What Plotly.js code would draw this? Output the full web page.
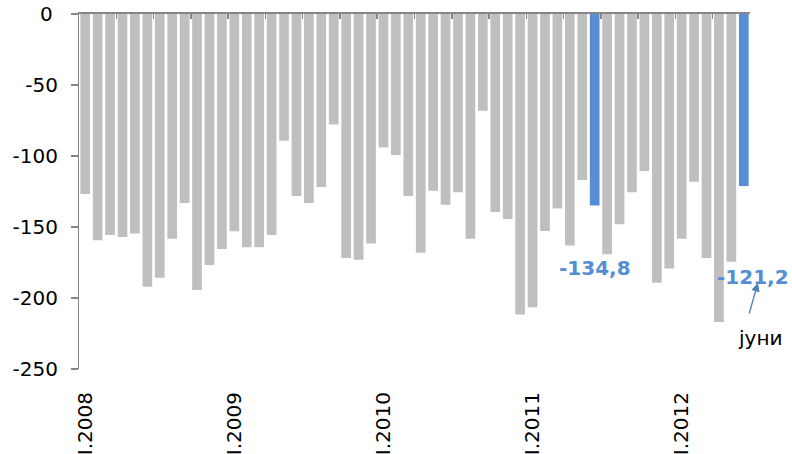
<!DOCTYPE html>
<html>
<head>
<meta charset="utf-8">
<script src="https://cdn.plot.ly/plotly-3.0.1.min.js"></script>
<style>html,body{margin:0;padding:0;background:#fff;}#chart{width:792px;height:454px;}</style>
</head>
<body>
<div id="chart"></div>
<script>
// ---- data ----
var years = [2008, 2009, 2010, 2011, 2012];
var monthNames = ["I","II","III","IV","V","VI","VII","VIII","IX","X","XI","XII"];
var values = [
  -126.8, -159.4, -155.6, -157.0, -154.5, -192.0, -185.7, -158.2, -133.1, -194.4, -176.8, -165.5,
  -153.0, -164.3, -164.3, -155.6,  -89.2, -128.2, -133.1, -121.8,  -77.9, -171.8, -173.0, -161.7,
   -94.1,  -99.3, -128.2, -168.1, -124.4, -134.3, -125.6, -158.2,  -68.1, -139.4, -144.4, -211.7,
  -206.6, -152.8, -136.9, -163.1, -116.9, -134.8, -169.2, -148.1, -125.6, -110.6, -189.2, -179.3,
  -158.2, -118.1, -171.8, -216.9, -174.4, -121.2
];
var highlighted = ["VI.2011", "VI.2012"];
var xTickLabels = ["I.2008", "I.2009", "I.2010", "I.2011", "I.2012"];
var yTickValues = [0, -50, -100, -150, -200, -250];
var yTickLabels = ["0", "-50", "-100", "-150", "-200", "-250"];
var noteText = "јуни";

// ---- build ----
var categories = [];
years.forEach(function (y) { monthNames.forEach(function (m) { categories.push(m + "." + y); }); });
categories = categories.slice(0, values.length);

var GREY = "#BFBFBF", BLUE = "#558ED5", AXIS = "#868686";
var colors = categories.map(function (c) { return highlighted.indexOf(c) >= 0 ? BLUE : GREY; });

function fmt(v) { return v.toFixed(1).replace(".", ","); }

var n = categories.length;
var boundaryTicks = [];
for (var i = 3; i < n; i += 3) boundaryTicks.push(i - 0.5);

var traces = [
  { type: "bar", x: categories, y: values, xaxis: "x", yaxis: "y", marker: { color: colors }, hoverinfo: "x+y", showlegend: false },
  { type: "scatter", x: [], y: [], xaxis: "x2", yaxis: "y", showlegend: false, hoverinfo: "skip" },
  { type: "scatter", x: [], y: [], xaxis: "x", yaxis: "y2", showlegend: false, hoverinfo: "skip" }
];

var hi1 = categories.indexOf(highlighted[0]);
var hi2 = categories.indexOf(highlighted[1]);
var FONT = "DejaVu Sans, Verdana, sans-serif";

var L = 58, R = 792 - 750;
var plotW = 792 - L - R;
var xStart = (79 - L) / plotW;

// the top (range-edge) label is drawn as an annotation so it lines up with the others
var axisLabelVals = yTickValues.slice(1);
var axisLabelText = yTickLabels.slice(1);

var layout = {
  width: 792, height: 454,
  margin: { l: L, r: R, t: 14, b: 85 },
  paper_bgcolor: "#fff", plot_bgcolor: "rgba(0,0,0,0)",
  bargap: 0.22,
  font: { family: FONT, size: 20, color: "#000" },
  xaxis: {
    domain: [xStart, 1], anchor: "y2",
    type: "category", range: [-0.5, n - 0.5],
    tickmode: "array", tickvals: xTickLabels, ticktext: xTickLabels,
    tickangle: -90, ticks: "", showline: false, showgrid: false, zeroline: false,
    tickfont: { family: FONT, size: 20, color: "#000" },
    ticklabelstandoff: 18
  },
  xaxis2: {
    domain: [xStart, 1],
    overlaying: "x", side: "top", anchor: "y", type: "linear", range: [-0.5, n - 0.5],
    tickmode: "array", tickvals: boundaryTicks, ticks: "inside", ticklen: 5, tickwidth: 1.5, tickcolor: AXIS,
    showticklabels: false, showline: true, linecolor: AXIS, linewidth: 2, showgrid: false, zeroline: false
  },
  yaxis: {
    anchor: "free", position: 0, side: "left",
    range: [-250, 0], tickmode: "array", tickvals: axisLabelVals, ticktext: axisLabelText,
    ticks: "", showline: false, showgrid: false, zeroline: false,
    tickfont: { family: FONT, size: 20, color: "#000" }
  },
  yaxis2: {
    overlaying: "y", anchor: "x", side: "left",
    range: [-250, 0], tickmode: "array", tickvals: yTickValues,
    showticklabels: false, ticks: "outside", ticklen: 7, tickwidth: 1.5, tickcolor: AXIS,
    showline: true, linecolor: AXIS, linewidth: 1.5, showgrid: false, zeroline: false
  },
  annotations: [
    { x: -3 / plotW, y: yTickValues[0], xref: "paper", yref: "y", xanchor: "right", yanchor: "middle",
      text: yTickLabels[0], showarrow: false, font: { family: FONT, size: 20, color: "#000" } },
    { x: hi1, y: -179, xref: "x", yref: "y", text: "<b>" + fmt(values[hi1]) + "</b>", showarrow: false,
      font: { family: FONT, size: 20, color: BLUE } },
    { x: hi2, y: -185.5, xref: "x", yref: "y", xshift: 9, text: "<b>" + fmt(values[hi2]) + "</b>", showarrow: false,
      font: { family: FONT, size: 20, color: BLUE } },
    { x: hi2, y: -189.4, xref: "x", yref: "y", xshift: 14, text: "", showarrow: true, ax: -9, ay: 32,
      arrowhead: 2, arrowsize: 1.3, arrowwidth: 1.3, arrowcolor: "#4A7EBB" },
    { x: hi2, y: -228.2, xref: "x", yref: "y", xshift: 16, text: noteText, showarrow: false,
      font: { family: FONT, size: 20, color: "#000" } }
  ]
};

Plotly.newPlot("chart", traces, layout, { staticPlot: true, displayModeBar: false });
</script>
</body>
</html>
